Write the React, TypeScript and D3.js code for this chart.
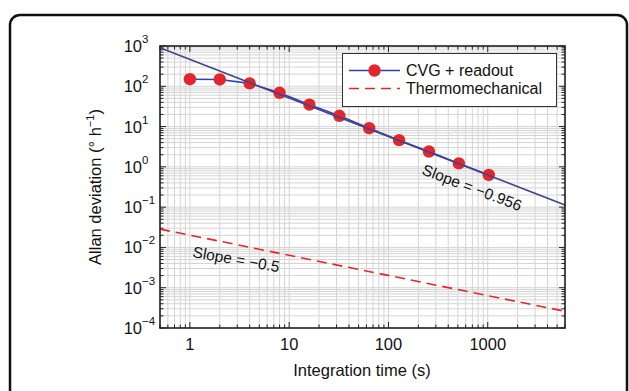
import * as d3 from "d3";

// CVG + readout measured Allan deviation
const tau = [1, 2, 4, 8, 16, 32, 64, 128, 256, 512, 1024];
const cvg = [150, 148, 118, 69, 35, 18.5, 9.1, 4.6, 2.4, 1.22, 0.63];

// fitted line (slope -0.956), end points
const fitTau = [0.5, 6000];
const fitValue = [900, 0.113];

// thermomechanical limit (slope -0.5)
const thermoValue = [0.0285, 0.00026];

const xTicks = [1, 10, 100, 1000];
const yExponents = [3, 2, 1, 0, -1, -2, -3, -4];

const width = 629;
const height = 391;
const left = 160;
const right = 565;
const top = 46;
const bottom = 328;

const font = "'Liberation Sans', Arial, sans-serif";

const minorValues = (lo: number, hi: number) => {
  const out: number[] = [];
  for (let e = Math.floor(Math.log10(lo)); e <= Math.ceil(Math.log10(hi)); e++) {
    for (let m = 1; m < 10; m++) {
      const v = m * Math.pow(10, e);
      if (v >= lo * 0.999 && v <= hi * 1.001) out.push(v);
    }
  }
  return out;
};

const App = () => {
  const x = d3.scaleLog().domain([0.5, 6000]).range([left, right]);
  const y = d3.scaleLog().domain([1e-4, 1e3]).range([bottom, top]);

  const xGrid = minorValues(0.5, 6000);
  const yGrid = minorValues(1e-4, 1e3);
  const isMajor = (v: number) => Math.abs(Math.log10(v) - Math.round(Math.log10(v))) < 1e-6;

  const line = d3
    .line<[number, number]>()
    .x((d) => x(d[0]))
    .y((d) => y(d[1]));

  const cvgPts = tau.map((t, i) => [t, cvg[i]] as [number, number]);
  const fitPts = fitTau.map((t, i) => [t, fitValue[i]] as [number, number]);
  const thermoPts = fitTau.map((t, i) => [t, thermoValue[i]] as [number, number]);

  const fitAngle = (Math.atan2(y(fitValue[1]) - y(fitValue[0]), x(fitTau[1]) - x(fitTau[0])) * 180) / Math.PI;
  const thermoAngle = (Math.atan2(y(thermoValue[1]) - y(thermoValue[0]), x(fitTau[1]) - x(fitTau[0])) * 180) / Math.PI;

  return (
    <svg width={width} height={height} style={{ position: "absolute", left: 0, top: 0 }} fontFamily={font}>
      <rect x={0} y={0} width={width} height={height} fill="#fff" />
      <rect x={10} y={15} width={617} height={400} rx={10} fill="none" stroke="#111" strokeWidth={2.5} />

      {/* grid */}
      <g stroke="#d4d4d4" strokeWidth={1}>
        {xGrid.map((v) => (
          <line key={"gx" + v} x1={x(v)} x2={x(v)} y1={top} y2={bottom} />
        ))}
        {yGrid.map((v) => (
          <line key={"gy" + v} x1={left} x2={right} y1={y(v)} y2={y(v)} />
        ))}
      </g>

      {/* inner ticks on all four sides */}
      <g stroke="#222" strokeWidth={1}>
        {xGrid.map((v) => {
          const len = isMajor(v) ? 6 : 3.5;
          return (
            <g key={"tx" + v}>
              <line x1={x(v)} x2={x(v)} y1={bottom} y2={bottom - len} />
              <line x1={x(v)} x2={x(v)} y1={top} y2={top + len} />
            </g>
          );
        })}
        {yGrid.map((v) => {
          const len = isMajor(v) ? 6 : 3.5;
          return (
            <g key={"ty" + v}>
              <line x1={left} x2={left + len} y1={y(v)} y2={y(v)} />
              <line x1={right} x2={right - len} y1={y(v)} y2={y(v)} />
            </g>
          );
        })}
      </g>

      {/* thermomechanical */}
      <path d={line(thermoPts) || ""} fill="none" stroke="#e8242a" strokeWidth={1.6} strokeDasharray="10 6" />

      {/* CVG data */}
      <path d={line(cvgPts) || ""} fill="none" stroke="#3040b8" strokeWidth={1.6} />
      {cvgPts.map((d) => (
        <circle key={"p" + d[0]} cx={x(d[0])} cy={y(d[1])} r={6.2} fill="#e2262b" />
      ))}

      {/* fit */}
      <path d={line(fitPts) || ""} fill="none" stroke="#43438a" strokeWidth={1.6} />

      <rect x={left} y={top} width={right - left} height={bottom - top} fill="none" stroke="#222" strokeWidth={1.6} />

      {/* slope labels */}
      <text
        x={421}
        y={174}
        fontSize={15.5}
        fill="#111"
        transform={`rotate(${fitAngle - 0.5}, 421, 174)`}
      >
        Slope = −0.956
      </text>
      <text
        x={192}
        y={257}
        fontSize={15.5}
        fill="#111"
        transform={`rotate(${thermoAngle - 1.5}, 192, 257)`}
      >
        Slope = −0.5
      </text>

      {/* legend */}
      <rect x={342.5} y={53.5} width={214} height={53} fill="#fff" stroke="#333" strokeWidth={1} />
      <line x1={349} x2={400} y1={70.5} y2={70.5} stroke="#3040b8" strokeWidth={1.6} />
      <circle cx={374.5} cy={70.5} r={6.2} fill="#e2262b" />
      <line x1={349} x2={400} y1={88.5} y2={88.5} stroke="#e8242a" strokeWidth={1.6} strokeDasharray="10 6" />
      <text x={406} y={76} fontSize={16} fill="#111">CVG + readout</text>
      <text x={406} y={94} fontSize={16} fill="#111">Thermomechanical</text>

      {/* x tick labels */}
      {xTicks.map((t) => (
        <text key={"xl" + t} x={x(t)} y={350} fontSize={16.5} textAnchor="middle" fill="#111">
          {t}
        </text>
      ))}

      {/* y tick labels */}
      {yExponents.map((e) => (
        <g key={"yl" + e}>
          <text x={142} y={y(Math.pow(10, e)) + 6} fontSize={16.5} textAnchor="end" fill="#111">
            10
          </text>
          <text x={142} y={y(Math.pow(10, e)) - 3} fontSize={11.5} fill="#111">
            {e < 0 ? "−" + Math.abs(e) : e}
          </text>
        </g>
      ))}

      {/* axis titles */}
      <text x={362} y={376} fontSize={16.5} textAnchor="middle" fill="#111">
        Integration time (s)
      </text>
      <text
        transform={`translate(101, 187) rotate(-90)`}
        fontSize={16.5}
        textAnchor="middle"
        fill="#111"
      >
        Allan deviation (° h
        <tspan fontSize={11} dy={-7}>−1</tspan>
        <tspan dy={7}>)</tspan>
      </text>
    </svg>
  );
};

export default App;
